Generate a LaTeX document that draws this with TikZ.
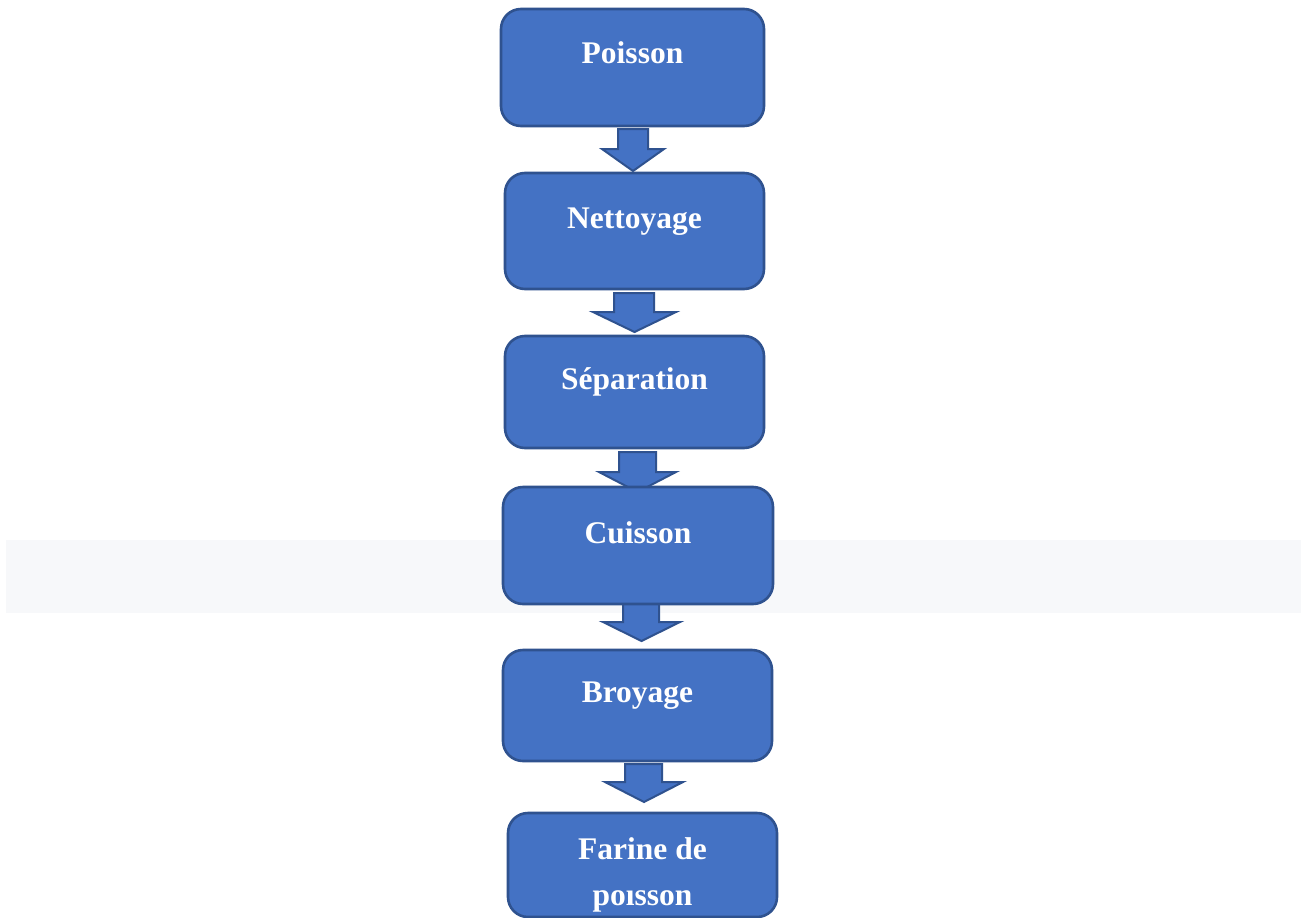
\documentclass[tikz,border=0pt]{standalone}
\usepackage{fontspec}
\setmainfont{Liberation Serif}
\definecolor{boxfill}{HTML}{4472C4}
\definecolor{boxline}{HTML}{2F528F}
\definecolor{band}{HTML}{F7F8FA}
\tikzset{
  stepbox/.style={draw=boxline, fill=boxfill, line width=2.6pt, rounded corners=20pt},
  blockarrow/.style={draw=boxline, fill=boxfill, line width=2pt, line join=miter},
  steptext/.style={text=white, font=\bfseries\fontsize{31.5}{38}\selectfont, anchor=base, inner sep=0pt}
}
\newcommand{\barrowshape}[8]{% name, shaft l, shaft r, top, head y, head l, head r, tip y
  \coordinate (#1) at ({(#6+#7)/2},#8);
  \draw[blockarrow] (#2,#4) -- (#3,#4) -- (#3,#5) -- (#7,#5) -- (#1) -- (#6,#5) -- (#2,#5) -- cycle;
}
\begin{document}
\begin{tikzpicture}[x=1pt,y=-1pt]
\useasboundingbox (0,0) rectangle (1301,918);
\clip (0,0) rectangle (1301,918);
\fill[white] (0,0) rectangle (1301,918);
\fill[band] (6,540) rectangle (1301,613);
% arrows
\barrowshape{a1}{618}{648}{129}{149}{602}{664}{171}
\barrowshape{a2}{614}{654}{293}{312}{593}{676}{332}
\barrowshape{a3}{619}{656}{452}{472}{599}{676}{492}
\barrowshape{a4}{623}{659}{600}{622}{603}{680}{641}
\barrowshape{a5}{625}{662}{764}{782}{605}{683}{802}
% boxes
\path[stepbox] (501,9) rectangle (764,126) node[pos=.5,inner sep=0] (b1) {};
\path[stepbox] (505,173) rectangle (764,289) node[pos=.5,inner sep=0] (b2) {};
\path[stepbox] (505,336) rectangle (764,448) node[pos=.5,inner sep=0] (b3) {};
\path[stepbox] (503,487) rectangle (773,604) node[pos=.5,inner sep=0] (b4) {};
\path[stepbox] (503,650) rectangle (772,761) node[pos=.5,inner sep=0] (b5) {};
\path[stepbox] (508,813) rectangle (777,917) node[pos=.5,inner sep=0] (b6) {};
% texts
\node[steptext] (t1) at (b1.center |- 0,63) {Poisson};
\node[steptext] (t2) at (b2.center |- 0,228) {Nettoyage};
\node[steptext] (t3) at (b3.center |- 0,389) {Séparation};
\node[steptext] (t4) at (b4.center |- 0,543) {Cuisson};
\node[steptext] (t5) at (b5.center |- 0,702) {Broyage};
\node[steptext] (t6) at (b6.center |- 0,859) {Farine de};
\begin{scope}
\clip (508,888) rectangle (777,918);
\node[steptext] (t7) at (b6.center |- 0,905) {poisson};
\end{scope}
\end{tikzpicture}
\end{document}
